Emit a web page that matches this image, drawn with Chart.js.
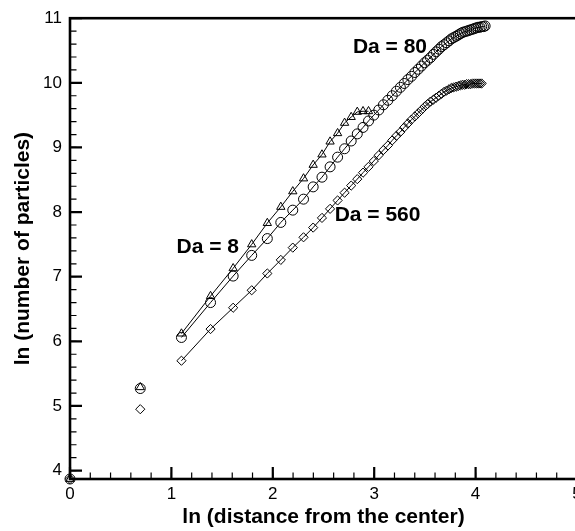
<!DOCTYPE html>
<html>
<head>
<meta charset="utf-8">
<script src="https://cdn.jsdelivr.net/npm/chart.js@4.4.1/dist/chart.umd.min.js"></script>
<style>
    html, body { margin: 0; padding: 0; background: #fff; overflow: hidden; width: 575px; height: 531px; }
    #wrap { width: 590px; height: 531px; }
</style>
</head>
<body>
<div id="wrap"><canvas id="chart"></canvas></div>
<script>
// ln of the distance from the center (shared x positions)
const lnDistance = [
    0, 0.693, 1.099, 1.386, 1.609, 1.792, 1.946, 2.079, 2.197, 2.303,
    2.398, 2.485, 2.565, 2.639, 2.708, 2.773, 2.833, 2.890, 2.944, 2.996,
    3.045, 3.091, 3.135, 3.178, 3.219, 3.258, 3.296, 3.332, 3.367, 3.401,
    3.434, 3.466, 3.497, 3.526, 3.555, 3.584, 3.611, 3.638, 3.664, 3.689,
    3.714, 3.738, 3.761, 3.784, 3.807, 3.829, 3.850, 3.871, 3.892, 3.912,
    3.932, 3.951, 3.970, 3.989, 4.007, 4.025, 4.043, 4.060, 4.078, 4.094
];

// ln (number of particles)
const da8 = [
    3.87, 5.29, 6.12, 6.70, 7.13, 7.50, 7.83, 8.08, 8.32, 8.52,
    8.73, 8.89, 9.09, 9.22, 9.38, 9.47, 9.55, 9.56, 9.56
];

const da80 = [
    3.87, 5.27, 6.06, 6.60, 7.01, 7.33, 7.59, 7.84, 8.03, 8.20,
    8.39, 8.54, 8.70, 8.85, 8.98, 9.10, 9.21, 9.31, 9.41, 9.50,
    9.58, 9.66, 9.73, 9.80, 9.87, 9.93, 9.99, 10.05, 10.10, 10.16,
    10.21, 10.26, 10.31, 10.35, 10.39, 10.44, 10.48, 10.52, 10.56, 10.59,
    10.62, 10.65, 10.68, 10.70, 10.72, 10.74, 10.76, 10.78, 10.79, 10.80,
    10.81, 10.82, 10.83, 10.84, 10.85, 10.86, 10.86, 10.87, 10.87, 10.88
];

const da560 = [
    3.87, 4.95, 5.70, 6.19, 6.52, 6.79, 7.05, 7.26, 7.45, 7.61,
    7.76, 7.91, 8.05, 8.18, 8.30, 8.41, 8.51, 8.61, 8.70, 8.79,
    8.88, 8.96, 9.03, 9.11, 9.18, 9.24, 9.31, 9.37, 9.43, 9.48,
    9.53, 9.58, 9.63, 9.67, 9.71, 9.74, 9.77, 9.80, 9.83, 9.86,
    9.88, 9.90, 9.92, 9.93, 9.94, 9.95, 9.96, 9.97, 9.97, 9.98,
    9.98, 9.98, 9.99, 9.99, 9.99, 9.99, 9.99, 9.99
];

const xTicks = [0, 1, 2, 3, 4, 5];
const yTicks = [4, 5, 6, 7, 8, 9, 10, 11];
const seriesNames = ['Da = 8', 'Da = 80', 'Da = 560'];

const toPoints = (values) => values.map((y, i) => ({ x: lnDistance[i], y: y }));

// the first two points of each curve are not joined to the rest
const makeDataset = (name, values, style, radius) => ({
    label: name,
    data: toPoints(values),
    showLine: true,
    borderColor: '#000',
    borderWidth: 1,
    pointStyle: style,
    pointRadius: radius,
    pointHoverRadius: radius,
    pointBorderWidth: 1,
    pointBorderColor: '#000',
    pointBackgroundColor: 'rgba(0,0,0,0)',
    clip: false,
    segment: {
        borderColor: c => c.p0DataIndex < 2 ? 'rgba(0,0,0,0)' : '#000'
    }
});

const frame = {
    id: 'frame',
    afterDraw(chart) {
        const {ctx, chartArea, scales: {x, y}} = chart;
        ctx.save();
        ctx.strokeStyle = '#000';

        // minor ticks every 0.2
        ctx.lineWidth = 1.2;
        ctx.beginPath();
        for (let v = 0; v <= 5.001; v += 0.2) {
            const px = x.getPixelForValue(v);
            ctx.moveTo(px, chartArea.bottom);
            ctx.lineTo(px, chartArea.bottom - 6.5);
        }
        for (let v = 4; v <= 11.001; v += 0.2) {
            const py = y.getPixelForValue(v);
            ctx.moveTo(chartArea.left, py);
            ctx.lineTo(chartArea.left + 6.5, py);
        }
        ctx.stroke();

        // major ticks
        ctx.lineWidth = 2.2;
        ctx.beginPath();
        xTicks.forEach(v => {
            const px = x.getPixelForValue(v);
            ctx.moveTo(px, chartArea.bottom);
            ctx.lineTo(px, chartArea.bottom - 12);
        });
        yTicks.forEach(v => {
            const py = y.getPixelForValue(v);
            ctx.moveTo(chartArea.left, py);
            ctx.lineTo(chartArea.left + 12, py);
        });
        ctx.stroke();

        // box
        ctx.lineWidth = 2.6;
        ctx.strokeRect(chartArea.left, chartArea.top, chartArea.right - chartArea.left, chartArea.bottom - chartArea.top);

        // curve labels
        ctx.fillStyle = '#000';
        ctx.font = 'bold 21px "Liberation Sans", Arial, sans-serif';
        ctx.textAlign = 'left';
        ctx.textBaseline = 'alphabetic';
        ctx.fillText(seriesNames[0], x.getPixelForValue(1.05), y.getPixelForValue(7.37));
        ctx.fillText(seriesNames[1], x.getPixelForValue(2.79), y.getPixelForValue(10.46));
        ctx.fillText(seriesNames[2], x.getPixelForValue(2.61), y.getPixelForValue(7.86));
        ctx.restore();
    }
};

const tickFont = { family: '"Liberation Sans", Arial, sans-serif', size: 17 };
const titleFont = { family: '"Liberation Sans", Arial, sans-serif', size: 21, weight: 'bold', lineHeight: 1.2 };

new Chart(document.getElementById('chart'), {
    type: 'scatter',
    data: {
        datasets: [
            makeDataset(seriesNames[0], da8, 'triangle', 4.8),
            makeDataset(seriesNames[1], da80, 'circle', 5),
            makeDataset(seriesNames[2], da560, 'rectRot', 4.6)
        ]
    },
    options: {
        responsive: true,
        maintainAspectRatio: false,
        animation: false,
        events: [],
        layout: { padding: { top: 16, right: 13, left: 0, bottom: 0 } },
        plugins: {
            legend: { display: false },
            tooltip: { enabled: false }
        },
        scales: {
            x: {
                type: 'linear',
                min: 0,
                max: 5,
                afterBuildTicks: s => { s.ticks = xTicks.map(v => ({ value: v })); },
                afterFit: s => { s.height = 52; },
                grid: { display: false, drawTicks: false },
                border: { display: false },
                ticks: { color: '#000', font: tickFont, padding: 5, maxRotation: 0 },
                title: {
                    display: true,
                    text: 'ln (distance from the center)',
                    color: '#000',
                    font: titleFont,
                    padding: { top: 0, bottom: 1 }
                }
            },
            y: {
                type: 'linear',
                min: 3.87,
                max: 11,
                afterBuildTicks: s => { s.ticks = yTicks.map(v => ({ value: v })); },
                afterFit: s => { s.width = 70; },
                grid: { display: false, drawTicks: false },
                border: { display: false },
                ticks: { color: '#000', font: tickFont, padding: 8 },
                title: {
                    display: true,
                    text: 'ln (number of particles)',
                    color: '#000',
                    font: titleFont,
                    padding: { top: 11, bottom: 0 }
                }
            }
        }
    },
    plugins: [frame]
});
</script>
</body>
</html>
